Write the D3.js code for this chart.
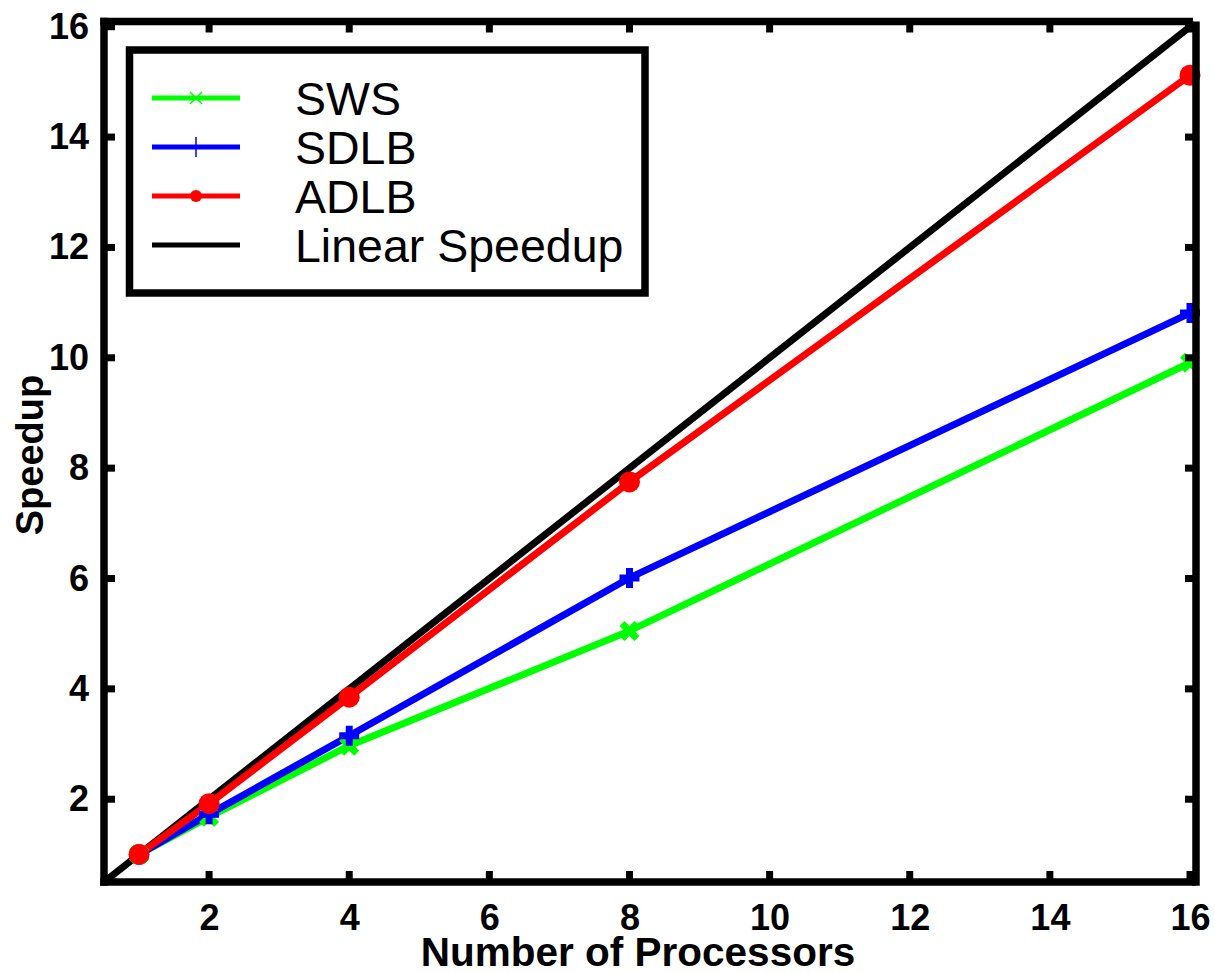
<!DOCTYPE html>
<html>
<head>
<meta charset="utf-8">
<script src="https://cdn.jsdelivr.net/npm/d3@7"></script>
<style>
  html, body { margin: 0; padding: 0; background: #fff; }
  svg { display: block; }
  text { font-family: "Liberation Sans", Arial, Helvetica, sans-serif; }
</style>
</head>
<body>
<svg id="chart" width="1215" height="973"></svg>
<script>
// ---- data ----
const processors = [1, 2, 4, 8, 16];
const swsSpeedup  = [1, 1.68, 2.97, 5.05, 9.91];
const sdlbSpeedup = [1, 1.73, 3.15, 6.01, 10.81];
const adlbSpeedup = [1, 1.92, 3.85, 7.75, 15.12];
const linearX = [0.5, 16];
const linearY = [0.5, 16];
const xTicks = [2, 4, 6, 8, 10, 12, 14, 16];
const yTicks = [2, 4, 6, 8, 10, 12, 14, 16];
const seriesNames = ["SWS", "SDLB", "ADLB", "Linear Speedup"];
const seriesColors = ["#00ff00", "#0000ff", "#ff0000", "#000000"];
const seriesMarkers = ["x", "plus", "circle", "none"];

// ---- layout ----
const svg = d3.select("#chart");
const L = 104, R = 1190, T = 26.7, B = 882;
const x = d3.scaleLinear().domain([0.5, 16]).range([L, R]);
const y = d3.scaleLinear().domain([0.5, 16]).range([B, T]);

const lineGen = d3.line().x(d => x(d[0])).y(d => y(d[1]));

function drawMarker(g, type, cx, cy, color, big) {
  if (type === "circle") {
    g.append("circle").attr("cx", cx).attr("cy", cy).attr("r", big ? 10.5 : 6)
      .attr("fill", color);
  } else if (type === "plus") {
    const s = 10, w = big ? 7 : 1.5;
    g.append("path").attr("d", `M${cx - s},${cy}H${cx + s}M${cx},${cy - s}V${cy + s}`)
      .attr("stroke", color).attr("stroke-width", w).attr("fill", "none");
  } else if (type === "x") {
    const s = big ? 7.5 : 6, w = big ? 7 : 1.5;
    g.append("path").attr("d", `M${cx - s},${cy - s}L${cx + s},${cy + s}M${cx - s},${cy + s}L${cx + s},${cy - s}`)
      .attr("stroke", color).attr("stroke-width", w).attr("fill", "none");
  }
}

// ---- data lines ----
const dataSets = [swsSpeedup, sdlbSpeedup, adlbSpeedup];
const plot = svg.append("g");
plot.append("path")
  .attr("d", lineGen(linearX.map((v, i) => [v, linearY[i]])))
  .attr("stroke", seriesColors[3]).attr("stroke-width", 7).attr("fill", "none");
dataSets.forEach((vals, si) => {
  const pts = processors.map((p, i) => [p, vals[i]]);
  plot.append("path").attr("d", lineGen(pts))
    .attr("stroke", seriesColors[si]).attr("stroke-width", 7).attr("fill", "none")
    .attr("stroke-linejoin", "round");
});
dataSets.forEach((vals, si) => {
  processors.forEach((p, i) => drawMarker(plot, seriesMarkers[si], x(p), y(vals[i]), seriesColors[si], true));
});

// ---- frame ----
const frame = svg.append("g").attr("stroke", "#000").attr("stroke-width", 7.5).attr("fill", "none");
const fTop = 21.5, fRight = 1196;
frame.append("path").attr("d", `M${L},${B + 3.75}V${fTop - 3.75}`);
frame.append("path").attr("d", `M${L - 3.75},${B}H${fRight}`);
frame.append("path").attr("d", `M${L - 3.75},${fTop}H${fRight - 3}`);
frame.append("path").attr("d", `M${fRight},${fTop}V${B + 3.75}`);

// ---- axes (ticks + labels) ----
const tickLen = 11;
const xAxisBottom = d3.axisBottom(x).tickValues(xTicks).tickSize(0).tickPadding(22).tickFormat(d3.format("d"));
const gx = svg.append("g").attr("transform", `translate(0,${B})`).call(xAxisBottom);
gx.select(".domain").remove();
gx.selectAll("text").attr("font-size", 36).attr("font-weight", "bold").attr("fill", "#000")
  .attr("font-family", '"Liberation Sans", Arial, sans-serif');

const yAxisLeft = d3.axisLeft(y).tickValues(yTicks).tickSize(0).tickPadding(12).tickFormat(d3.format("d"));
const gy = svg.append("g").attr("transform", `translate(${L - 3},0)`).call(yAxisLeft);
gy.select(".domain").remove();
gy.selectAll("text").attr("font-size", 36).attr("font-weight", "bold").attr("fill", "#000")
  .attr("font-family", '"Liberation Sans", Arial, sans-serif');

const ticks = svg.append("g").attr("stroke", "#000").attr("stroke-width", 7);
xTicks.forEach(t => {
  ticks.append("line").attr("x1", x(t)).attr("x2", x(t)).attr("y1", B).attr("y2", B - tickLen);
  ticks.append("line").attr("x1", x(t)).attr("x2", x(t)).attr("y1", fTop).attr("y2", fTop + tickLen);
});
yTicks.forEach(t => {
  ticks.append("line").attr("x1", L).attr("x2", L + tickLen).attr("y1", y(t)).attr("y2", y(t));
  ticks.append("line").attr("x1", fRight).attr("x2", fRight - tickLen).attr("y1", y(t)).attr("y2", y(t));
});

// ---- axis titles ----
svg.append("text").attr("x", 638).attr("y", 966).attr("text-anchor", "middle")
  .attr("font-size", 40.5).attr("font-weight", "bold").text("Number of Processors");
svg.append("text").attr("transform", "translate(43,455) rotate(-90)").attr("text-anchor", "middle")
  .attr("font-size", 38).attr("font-weight", "bold").text("Speedup");

// ---- legend ----
const lg = svg.append("g");
const lgL = 129.5, lgT = 50, lgR = 645, lgB = 293;
lg.append("rect").attr("x", lgL).attr("y", lgT).attr("width", lgR - lgL).attr("height", lgB - lgT)
  .attr("fill", "#fff").attr("stroke", "#000").attr("stroke-width", 7.5);
const rowY = [98, 147, 196, 245];
seriesNames.forEach((name, i) => {
  lg.append("line").attr("x1", 152).attr("x2", 240).attr("y1", rowY[i]).attr("y2", rowY[i])
    .attr("stroke", seriesColors[i]).attr("stroke-width", 5);
  drawMarker(lg, seriesMarkers[i], 196, rowY[i], seriesColors[i], false);
  lg.append("text").attr("x", 295).attr("y", rowY[i] + 16.5).attr("font-size", 46.5)
    .attr("fill", "#000").text(name);
});
</script>
</body>
</html>
